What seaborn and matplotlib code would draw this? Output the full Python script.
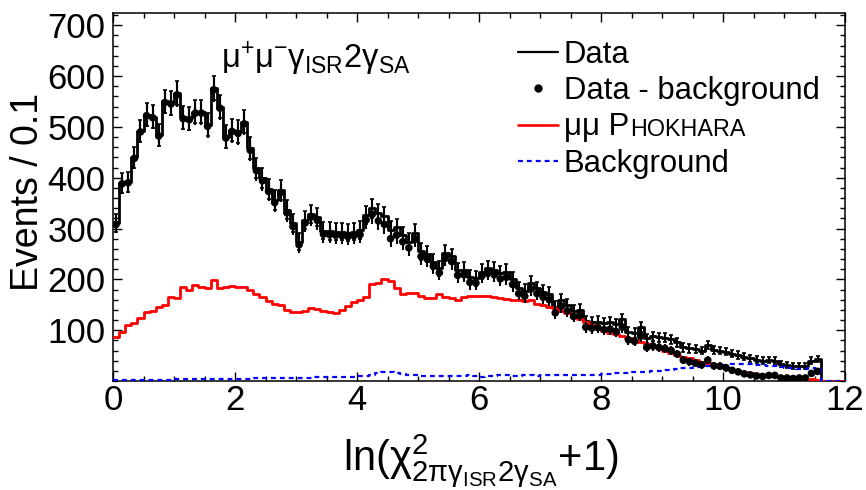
import numpy as np
import matplotlib
matplotlib.use("Agg")
import matplotlib.pyplot as plt
from matplotlib import font_manager
from matplotlib.lines import Line2D
from matplotlib.ticker import MultipleLocator
import seaborn as sns

# ---- histogram contents, 0.1 wide bins starting at 0 ----
bin_width = 0.1
n_bins = 120

data_counts = [
    310, 390, 392, 440, 492, 524, 520, 484, 550, 547,
    566, 519, 517, 530, 530, 504, 576, 540, 481, 494,
    491, 510, 458, 419, 399, 378, 356, 376, 337, 310,
    274, 317, 329, 323, 296, 295, 294, 294, 292, 294,
    297, 327, 340, 330, 325, 297, 302, 287, 274, 291,
    255, 250, 235, 222, 251, 245, 218, 219, 205, 202,
    215, 222, 219, 212, 215, 200, 182, 178, 192, 182,
    176, 171, 146, 159, 150, 138, 140, 118, 116, 117,
    114, 116, 112, 121, 97, 95, 106, 84, 88, 86,
    85, 82, 76, 66, 64, 62, 60, 71, 61, 60,
    58, 54, 51, 48, 45, 42, 40, 41, 40, 34,
    32, 30, 30, 30, 40, 43,
]

mc_phokhara = [
    86, 97, 110, 115, 123, 135, 138, 145, 150, 165,
    163, 184, 179, 188, 184, 182, 198, 182, 184, 186,
    184, 184, 180, 172, 165, 158, 152, 150, 140, 136,
    136, 138, 143, 141, 138, 136, 133, 140, 148, 155,
    160, 165, 191, 193, 200, 196, 182, 171, 173, 174,
    167, 164, 163, 172, 166, 163, 159, 166, 168, 167,
    167, 168, 166, 164, 162, 160, 159, 158, 160, 152,
    150, 146, 143, 137, 133, 127, 122, 117, 110, 104,
    98, 95, 92, 88, 85, 80, 76, 72, 68, 64,
    60, 56, 52, 48, 45, 41, 38, 35, 31, 28,
    25, 22, 20, 17, 15, 13, 12, 10, 9, 8,
    7, 6, 5, 4, 3, 2,
]

background = [
    2, 2, 2, 2, 2, 2, 2, 2, 2, 2,
    3, 3, 3, 3, 3, 3, 3, 3, 3, 3,
    4, 4, 4, 5, 5, 5, 5, 5, 6, 6,
    6, 6, 6, 7, 7, 7, 7, 8, 8, 8,
    9, 10, 12, 15, 17, 17, 15, 13, 12, 11,
    10, 10, 9, 9, 9, 10, 10, 10, 11, 9,
    8, 9, 10, 11, 11, 10, 10, 11, 11, 10,
    11, 11, 12, 12, 12, 11, 11, 12, 12, 12,
    13, 14, 15, 15, 16, 17, 18, 18, 19, 20,
    21, 22, 23, 25, 26, 27, 28, 30, 31, 31,
    32, 33, 33, 34, 33, 32, 31, 30, 29, 28,
    26, 25, 24, 24, 25, 24,
]

x_ticks = [0, 2, 4, 6, 8, 10, 12]
y_ticks = [100, 200, 300, 400, 500, 600, 700]

legend_labels = ["Data", "Data - background", "\u03bc\u03bc P", "Background"]
mc_label_tail = "HOKHARA"
channel_label = r"$\mu^{+}\mu^{-}\gamma_{ISR}2\gamma_{SA}$"
x_title = r"$\mathsf{ln(\chi^{2}_{2\pi\gamma_{ISR}2\gamma_{SA}}{+}1)}$"
y_title = "Events / 0.1"


def padded(values):
    out = np.zeros(n_bins)
    out[:len(values)] = values
    return out


data = padded(data_counts)
mc = padded(mc_phokhara)
bkg = padded(background)
edges = np.arange(n_bins + 1) * bin_width
centers = edges[:-1] + bin_width / 2
filled = np.arange(n_bins) < len(data_counts)
data_minus_bkg = data - bkg

# ---- style ----
sns.set_theme(style="ticks")
available = {f.name for f in font_manager.fontManager.ttflist}
narrow = "Liberation Sans Narrow" if "Liberation Sans Narrow" in available else "Liberation Sans"
plt.rcParams["font.family"] = ["Liberation Sans", "DejaVu Sans"]
plt.rcParams["text.color"] = "black"
plt.rcParams["axes.labelcolor"] = "black"
plt.rcParams["xtick.color"] = "black"
plt.rcParams["ytick.color"] = "black"
plt.rcParams["mathtext.fontset"] = "custom"
plt.rcParams["mathtext.rm"] = "Liberation Sans"
plt.rcParams["mathtext.it"] = "Liberation Sans"
plt.rcParams["mathtext.bf"] = "Liberation Sans:bold"
plt.rcParams["mathtext.sf"] = narrow
plt.rcParams["mathtext.default"] = "rm"

W, H = 866, 490
fig = plt.figure(figsize=(W / 100, H / 100), dpi=100)
ax_l, ax_r, ax_t, ax_b = 113, 845, 13, 381
ax = fig.add_axes([ax_l / W, 1 - ax_b / H, (ax_r - ax_l) / W, (ax_b - ax_t) / H])


def step_line(values, **kw):
    sns.lineplot(x=edges, y=np.append(values, values[-1]), drawstyle="steps-post",
                 estimator=None, sort=False, ax=ax, **kw)


# Data histogram with statistical errors
step_line(data, color="black", linewidth=2.0, zorder=3)
ax.errorbar(centers[filled], data[filled], yerr=np.sqrt(data[filled]), fmt="none",
            ecolor="black", elinewidth=1.5, capsize=1.2, capthick=1.2, zorder=3)

# Simulation and background
step_line(mc, color="red", linewidth=2.0, zorder=4)
step_line(bkg, color="blue", linewidth=1.6, linestyle=(0, (2.2, 1.8)), zorder=4)

# Data minus background points
ax.errorbar(centers[filled], data_minus_bkg[filled], yerr=np.sqrt(data[filled]),
            fmt="none", ecolor="black", elinewidth=1.5, zorder=5)
sns.scatterplot(x=centers[filled], y=data_minus_bkg[filled], color="black", s=30,
                edgecolor="none", marker="o", ax=ax, zorder=6)

# ---- axes ----
ax.set_xlim(0, 12)
ax.set_ylim(0, 724)
ax.set_xticks(x_ticks)
ax.set_xticklabels([str(v) for v in x_ticks])
ax.set_yticks(y_ticks)
ax.set_yticklabels([str(v) for v in y_ticks])
ax.xaxis.set_minor_locator(MultipleLocator(0.5))
ax.yaxis.set_minor_locator(MultipleLocator(20))
ax.tick_params(which="both", direction="in", top=True, right=True, color="black", width=1.0)
ax.tick_params(which="major", length=6.5)
ax.tick_params(which="minor", length=3.3)
ax.tick_params(axis="y", which="major", pad=5.5, labelsize=25, labelfontfamily=narrow,
               labelcolor="black")
ax.tick_params(axis="x", which="major", pad=2, labelsize=25, labelfontfamily=narrow,
               labelcolor="black")
for side in ax.spines.values():
    side.set_linewidth(1.1)
    side.set_color("black")

ax.set_xlabel(x_title, fontsize=30, va="baseline", ha="center", color="black")
ax.xaxis.set_label_coords(0.5 + (481 - (ax_l + ax_r) / 2) / (ax_r - ax_l), (ax_b - 470) / (ax_b - ax_t))
ax.set_ylabel(y_title, fontsize=27, family=narrow, va="center", ha="center", color="black")
ax.yaxis.set_label_coords((28 - ax_l) / (ax_r - ax_l), (ax_b - 192) / (ax_b - ax_t))

ax.text((316 - ax_l) / (ax_r - ax_l), (ax_b - 68) / (ax_b - ax_t), channel_label,
        transform=ax.transAxes, ha="center", va="baseline", fontsize=23.5, color="black")

# ---- legend ----
handles = [
    Line2D([], [], color="black", lw=1.6),
    Line2D([], [], color="black", marker="o", ls="none", markersize=5),
    Line2D([], [], color="red", lw=1.9),
    Line2D([], [], color="blue", lw=1.6, ls=(0, (2.2, 1.8))),
]
leg = ax.legend(handles, legend_labels, loc="upper left",
                bbox_to_anchor=(518 / W, 1 - 40 / H), bbox_transform=fig.transFigure,
                frameon=False, fontsize=22.4, handlelength=1.3, handletextpad=0.17,
                labelspacing=0.2, borderpad=0, borderaxespad=0)
for t in leg.get_texts():
    t.set_color("black")
ax.annotate(mc_label_tail, xy=(1, 0), xycoords=leg.get_texts()[2],
            xytext=(0.5, 4.7), textcoords="offset points", fontsize=16.8,
            ha="left", va="baseline", zorder=10, color="black")

fig.savefig("out.png", dpi=100)
